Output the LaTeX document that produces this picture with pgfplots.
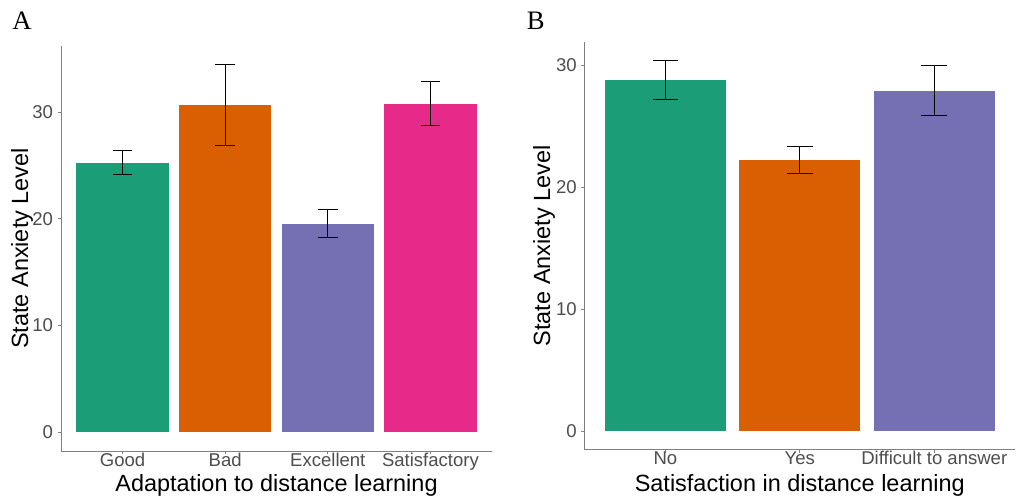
\documentclass[border=0pt]{standalone}
\usepackage{fontspec}
\setmainfont{Liberation Sans}
\newfontfamily\serifletter{Liberation Serif}
\usepackage{pgfplots}
\pgfplotsset{compat=1.18}
\definecolor{dkgreen}{HTML}{1B9E77}
\definecolor{dkorange}{HTML}{D95F02}
\definecolor{dkpurple}{HTML}{7570B3}
\definecolor{dkpink}{HTML}{E7298A}
\definecolor{ticktext}{HTML}{4D4D4D}
\pgfplotsset{
  panel/.style={
    scale only axis,
    axis lines=left,
    axis line style={-, draw=black!50, line width=0.75pt},
    tick align=outside,
    major tick length=2.5pt,
    tick style={draw=black!50, line width=0.6pt},
    ytick={0,10,20,30},
    xtick={1,2,3,4},
    tick label style={font=\fontsize{13.9}{16}\selectfont, text=ticktext},
    xticklabel style={yshift=2.5pt, inner sep=1pt},
    label style={font=\fontsize{17.6}{21}\selectfont, inner sep=0pt},
    /pgf/number format/assume math mode=true,
    ylabel={State Anxiety Level},
  },
  errbar/.style={
    ybar, bar width=0.9, draw=none,
    error bars/y dir=both, error bars/y explicit,
    error bars/error bar style={black, line width=0.6pt},
  },
}
\begin{document}
\begin{tikzpicture}
\path[use as bounding box] (0,0) rectangle (762pt,372.75pt);
\begin{axis}[panel,
  at={(45.75pt,34.5pt)}, anchor=south west,
  width=323.25pt, height=303.75pt,
  xmin=0.4, xmax=4.6, ymin=-1.75, ymax=36.2,
  xticklabels={Good,Bad,Excellent,Satisfactory},
  xlabel={Adaptation to distance learning},
  xlabel style={at={(axis description cs:0.5,-0.084)}, anchor=center},
  ylabel style={at={(axis description cs:-0.0905,0.5)}, anchor=center, rotate=0},
  error bars/error mark options={black, line width=0.6pt, mark size=7.3pt, rotate=90},
]
\addplot[errbar, fill=dkgreen] coordinates {(1,25.28) +- (0,1.13)};
\addplot[errbar, fill=dkorange] coordinates {(2,30.7) +- (0,3.8)};
\addplot[errbar, fill=dkpurple] coordinates {(3,19.56) +- (0,1.33)};
\addplot[errbar, fill=dkpink] coordinates {(4,30.8) +- (0,2.05)};
\end{axis}
\begin{axis}[panel,
  at={(438.5pt,35.5pt)}, anchor=south west,
  width=322.7pt, height=305.8pt,
  xmin=0.4, xmax=3.6, ymin=-1.53, ymax=31.94,
  xticklabels={No,Yes,Difficult to answer},
  xlabel={Satisfaction in distance learning},
  xlabel style={at={(axis description cs:0.5,-0.0866)}, anchor=center},
  ylabel style={at={(axis description cs:-0.0946,0.5)}, anchor=center, rotate=0},
  error bars/error mark options={black, line width=0.6pt, mark size=9.6pt, rotate=90},
]
\addplot[errbar, fill=dkgreen] coordinates {(1,28.82) +- (0,1.6)};
\addplot[errbar, fill=dkorange] coordinates {(2,22.28) +- (0,1.1)};
\addplot[errbar, fill=dkpurple] coordinates {(3,27.94) +- (0,2.06)};
\end{axis}
\node[anchor=base west, inner sep=0pt, font=\serifletter\fontsize{20}{24}\selectfont] at (9pt,350.8pt) {A};
\node[anchor=base west, inner sep=0pt, font=\serifletter\fontsize{20}{24}\selectfont] at (395pt,350.8pt) {B};
\end{tikzpicture}
\end{document}
